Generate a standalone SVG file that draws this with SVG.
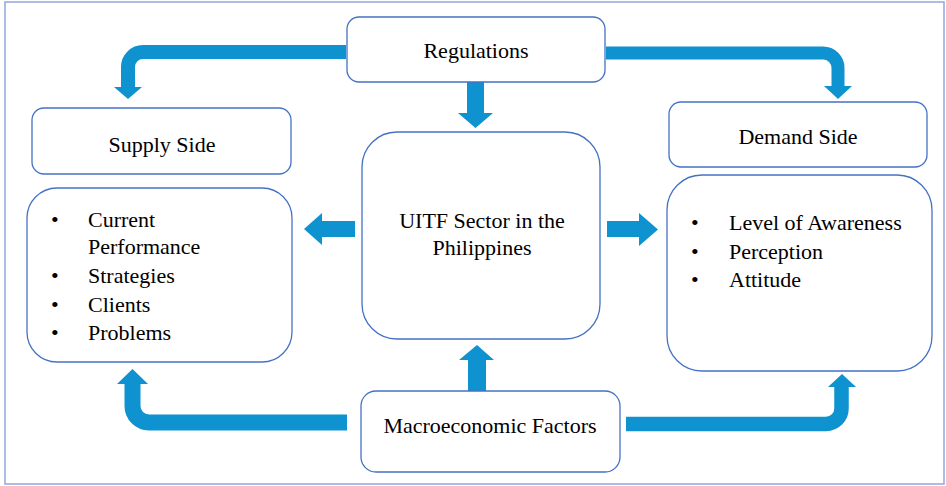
<svg xmlns="http://www.w3.org/2000/svg" width="946" height="486" viewBox="0 0 946 486">
<style>
.frame{fill:#fff;stroke:#8ea9db;stroke-width:1.5}
.box{fill:#fff;stroke:#4472c4;stroke-width:1.3}
.c{text-anchor:middle}
.arr{fill:none;stroke:#0e92d0}
.ah{fill:#0e92d0}
</style>
<rect class="frame" x="5" y="2" width="939" height="482"/>
<g id="connectors">
<path class="arr" stroke-width="14" d="M346,52 H143 A15,15 0 0 0 128,67 V88"/>
<polygon class="ah" points="114,87 142,87 128,99"/>
<path class="arr" stroke-width="13" d="M606,53 H823 A15,15 0 0 1 838,68 V87"/>
<polygon class="ah" points="824,86 852,86 838,99"/>
<polygon class="ah" points="467,82 484,82 484,113 493,113 475.5,128 458,113 467,113"/>
<polygon class="ah" points="355,221 322,221 322,213 304,229 322,245 322,237 355,237"/>
<polygon class="ah" points="607,221 639,221 639,213 658,229.5 639,246 639,237 607,237"/>
<polygon class="ah" points="468,391 468,360 459,360 477,345 494,360 486,360 486,391"/>
<path class="arr" stroke-width="16" d="M347,422.5 H149 A16.5,16.5 0 0 1 132.5,406 V384"/>
<polygon class="ah" points="117,384 148,384 132.5,369"/>
<path class="arr" stroke-width="14.5" d="M626,424 H826 A15.5,15.5 0 0 0 841.5,408.5 V387"/>
<polygon class="ah" points="828,387 856,387 842,374"/>
</g>
<g font-family="Liberation Serif, DejaVu Serif, serif" font-size="22" fill="#000">
<g id="regulations">
<rect class="box" x="347" y="17" width="258" height="65" rx="12"/>
<text class="c" x="476" y="58">Regulations</text>
</g>
<g id="supply-side">
<rect class="box" x="32" y="108" width="259" height="66" rx="12"/>
<text class="c" x="162" y="152">Supply Side</text>
</g>
<g id="demand-side">
<rect class="box" x="669" y="102" width="258" height="65" rx="12"/>
<text class="c" x="798" y="144">Demand Side</text>
</g>
<g id="supply-list">
<rect class="box" x="27" y="188" width="265" height="174" rx="30"/>
<text x="51" y="227">•</text><text x="88" y="227">Current</text>
<text x="88" y="254">Performance</text>
<text x="51" y="283">•</text><text x="88" y="283">Strategies</text>
<text x="51" y="312">•</text><text x="88" y="312">Clients</text>
<text x="51" y="340">•</text><text x="88" y="340">Problems</text>
</g>
<g id="uitf">
<rect class="box" x="362" y="132" width="238" height="207" rx="35"/>
<text class="c" x="482" y="228">UITF Sector in the</text>
<text class="c" x="482" y="255">Philippines</text>
</g>
<g id="demand-list">
<rect class="box" x="667" y="175" width="265" height="196" rx="35"/>
<text x="691" y="230">•</text><text x="729" y="230">Level of Awareness</text>
<text x="691" y="259">•</text><text x="729" y="259">Perception</text>
<text x="691" y="287">•</text><text x="729" y="287">Attitude</text>
</g>
<g id="macro">
<rect class="box" x="361" y="391" width="259" height="81" rx="15"/>
<text class="c" x="490" y="433">Macroeconomic Factors</text>
</g>
</g>
</svg>
